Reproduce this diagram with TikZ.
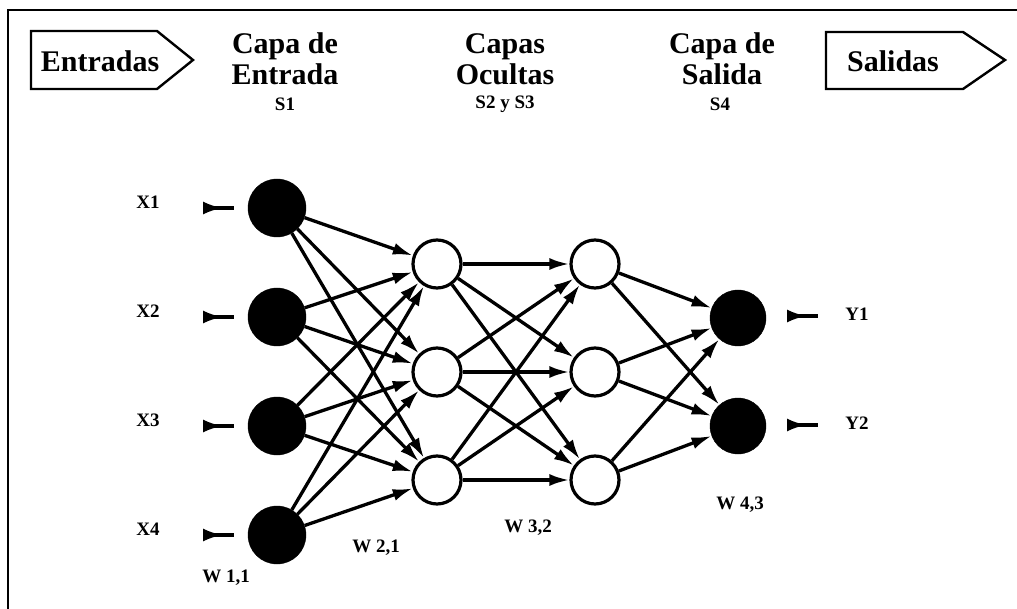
\documentclass[tikz,border=0pt]{standalone}
\usepackage{fontspec}
\setmainfont{Liberation Serif}
\usetikzlibrary{arrows.meta}
\begin{document}
\begin{tikzpicture}[x=1pt,y=-1pt,
  inneuron/.style={circle,fill=black,draw=black,minimum size=58pt,inner sep=0pt},
  hidneuron/.style={circle,fill=white,draw=black,line width=3.2pt,minimum size=48pt,inner sep=0pt},
  outneuron/.style={circle,fill=black,draw=black,minimum size=56pt,inner sep=0pt},
  link/.style={line width=3.3pt,-{Latex[length=20pt,width=12pt]}},
  stub/.style={line width=3.5pt,{Latex[reversed,length=20pt,width=13pt]}-},
  title/.style={font=\bfseries\fontsize{30}{31}\selectfont,align=center},
  small/.style={font=\bfseries\fontsize{19}{22}\selectfont},
  tag/.style={draw,line width=2.4pt,line join=miter}
]
\useasboundingbox (0,0) rectangle (1017,609);
\fill[white] (0,0) rectangle (1017,609);

% outer frame
\draw[line width=2.8pt] (8,609) -- (8,10) -- (1017,10);

% pointer tags
\draw[tag] (31,31) -- (157,31) -- (193,60) -- (157,89) -- (31,89) -- cycle;
\node[title] (ent) at (100,61) {Entradas};
\draw[tag] (826,32) -- (963,32) -- (1005,60) -- (963,89) -- (826,89) -- cycle;
\node[title] (sal) at (893,61) {Salidas};

% layer headings
\node[title] (t1) at (285,59) {Capa de\\Entrada};
\node[title] (t2) at (505,59) {Capas\\Ocultas};
\node[title] (t3) at (722,59) {Capa de\\Salida};
\node[small] (s1) at (285,104) {S1};
\node[small] (s2) at (505,104) {S2 y S3};
\node[small] (s4) at (720,104) {S4};

% neurons
\foreach \i/\y in {1/208,2/317,3/426,4/535}
  \node[inneuron] (in\i) at (277,\y) {};
\foreach \i/\y in {1/264,2/372,3/480} {
  \node[hidneuron] (h\i) at (437,\y) {};
  \node[hidneuron] (g\i) at (595,\y) {};
}
\foreach \i/\y in {1/318,2/426}
  \node[outneuron] (o\i) at (738,\y) {};

% weighted connections
\foreach \i in {1,...,4}
  \foreach \j in {1,2,3}
    \draw[link] (in\i) -- (h\j);
\foreach \i in {1,2,3}
  \foreach \j in {1,2,3}
    \draw[link] (h\i) -- (g\j);
\foreach \i in {1,2,3}
  \foreach \j in {1,2}
    \draw[link] (g\i) -- (o\j);

% inputs
\foreach \i/\y in {1/208,2/317,3/426,4/535} {
  \node[small] (x\i) at (148,\y-6) {X\i};
  \coordinate (xa\i) at (203,\y);
  \coordinate (xb\i) at (234,\y);
  \draw[stub] (xa\i) -- (xb\i);
}

% outputs
\foreach \i/\y in {1/316,2/425} {
  \coordinate (ya\i) at (787,\y);
  \coordinate (yb\i) at (818,\y);
  \draw[stub] (ya\i) -- (yb\i);
  \node[small] (y\i) at (857,\y-2) {Y\i};
}

% weight matrices
\node[small] (w1) at (226,578) {W 1,1};
\node[small] (w2) at (376,548) {W 2,1};
\node[small] (w3) at (528,528) {W 3,2};
\node[small] (w4) at (740,505) {W 4,3};
\end{tikzpicture}
\end{document}
